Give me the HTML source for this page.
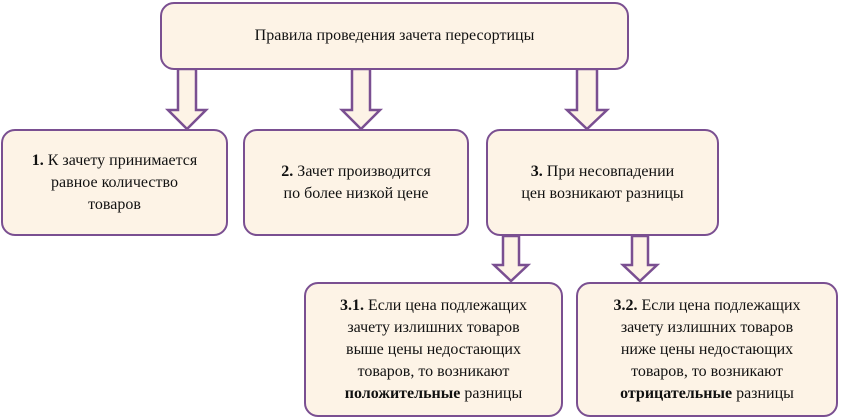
<!DOCTYPE html>
<html><head><meta charset="utf-8"><style>
body{margin:0;width:841px;height:419px;background:#fff;position:relative;overflow:hidden;font-family:"Liberation Serif","Times New Roman","DejaVu Serif",serif;}
.b{position:absolute;box-sizing:border-box;background:#fdf3e6;border:2.5px solid #7a4f91;border-radius:14px;display:flex;align-items:center;justify-content:center;text-align:center;font-size:16px;line-height:22px;color:#111;font-family:"Liberation Serif","Times New Roman","DejaVu Serif",serif;}
svg{position:absolute;left:0;top:0}
</style></head><body>
<svg width="841" height="419">
<g fill="#fdf3e6" stroke="#7a4f91" stroke-width="2.5" stroke-linejoin="miter">
<polygon points="178,69 196,69 196,110 206,110 187,129 168,110 178,110"/>
<polygon points="352,69 370,69 370,110 380,110 361,129 342,110 352,110"/>
<polygon points="577,69 597,69 597,110 607,110 587,129 567,110 577,110"/>
<polygon points="503,236 519,236 519,265 528,265 511,281 494,265 503,265"/>
<polygon points="632,236 648,236 648,265 657,265 640,281 623,265 632,265"/>
</g></svg>
<div class="b" style="left:160px;top:2px;width:469px;height:68px;">Правила проведения зачета пересортицы</div>
<div class="b" style="left:1px;top:129px;width:227px;height:107px;"><div><b>1.</b> К зачету принимается<br>равное количество<br>товаров</div></div>
<div class="b" style="left:243px;top:129px;width:226px;height:107px;"><div><b>2.</b> Зачет производится<br>по более низкой цене</div></div>
<div class="b" style="left:486px;top:129px;width:233px;height:107px;"><div><b>3.</b> При несовпадении<br>цен возникают разницы</div></div>
<div class="b" style="left:304px;top:282px;width:259px;height:135px;"><div><b>3.1.</b> Если цена подлежащих<br>зачету излишних товаров<br>выше цены недостающих<br>товаров, то возникают<br><b>положительные</b> разницы</div></div>
<div class="b" style="left:576px;top:282px;width:262px;height:135px;"><div><b>3.2.</b> Если цена подлежащих<br>зачету излишних товаров<br>ниже цены недостающих<br>товаров, то возникают<br><b>отрицательные</b> разницы</div></div>
</body></html>
